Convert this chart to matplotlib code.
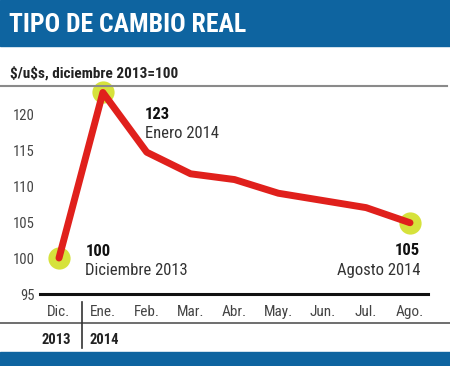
import numpy as np
import matplotlib.pyplot as plt
from matplotlib.patches import Rectangle
from matplotlib.lines import Line2D

plt.rcParams['font.family'] = ['Roboto Condensed', 'DejaVu Sans']

months = ['Dic.', 'Ene.', 'Feb.', 'Mar.', 'Abr.', 'May.', 'Jun.', 'Jul.', 'Ago.']
values = [100, 123, 114.7, 111.7, 110.9, 109, 108, 107, 104.9]
yticks = [95, 100, 105, 110, 115, 120]

W, H = 450, 366
BLUE = '#0e64a0'

def fx(px):
    return px / W

def fy(py):
    return 1 - py / H

fig = plt.figure(figsize=(4.5, 3.66), dpi=100)

# header band and footer band
fig.patches.append(Rectangle((0, fy(46)), 1, 46 / H, transform=fig.transFigure,
                             color=BLUE, zorder=0))
fig.patches.append(Rectangle((0, 0), 1, fy(352), transform=fig.transFigure,
                             color=BLUE, zorder=0))
fig.text(fx(9), fy(25), 'TIPO DE CAMBIO REAL', color='white', fontsize=18.5,
         fontweight='bold', va='center', ha='left')
fig.text(fx(10), fy(73), r'\$/u\$s, diciembre 2013=100', color='#222222', fontsize=11,
         fontweight='bold', va='center', ha='left')
fig.lines.append(Line2D([0, fx(447)], [fy(86), fy(86)], transform=fig.transFigure,
                        color='#8a8a8a', lw=1.5))

# main axes
left, right, top, bottom = 40, 428, 86, 294
ax = fig.add_axes([fx(left), fy(bottom), fx(right) - fx(left), (bottom - top) / H])
x = np.arange(len(months))
ax.plot(x, values, color='#e0201c', lw=5, solid_joinstyle='round',
        solid_capstyle='round', zorder=3, clip_on=False)
idx = [0, 1, len(x) - 1]
ax.plot(x[idx], [values[i] for i in idx], 'o', ms=16, color='#d6e23c', zorder=2,
        clip_on=False, mec='none')

ax.set_xlim(-0.433, 8.41)
ax.set_ylim(95, 123.9)
ax.set_yticks(yticks)
ax.set_yticklabels([str(v) for v in yticks], color='#444444', fontsize=10.5)
ax.set_xticks(x)
ax.set_xticklabels(months, color='#444444', fontsize=11)
ax.tick_params(axis='y', length=0, pad=4)
ax.tick_params(axis='x', length=0, pad=8)
for s in ['top', 'right', 'left']:
    ax.spines[s].set_visible(False)
ax.spines['bottom'].set_linewidth(2.2)
ax.spines['bottom'].set_color('#111111')

# point labels
ax.text(0.6, 100.9, '100', fontsize=12, fontweight='bold', color='#111111', va='center')
ax.text(0.6, 98.2, 'Diciembre 2013', fontsize=12, color='#333333', va='center')
ax.text(1.95, 120.0, '123', fontsize=12, fontweight='bold', color='#111111', va='center')
ax.text(1.95, 117.3, 'Enero 2014', fontsize=12, color='#333333', va='center')
ax.text(8.23, 101.1, '105', fontsize=12, fontweight='bold', color='#111111',
        va='center', ha='right')
ax.text(8.23, 98.2, 'Agosto 2014', fontsize=12, color='#333333', va='center', ha='right')

# year row
fig.lines.append(Line2D([0, 1], [fy(323), fy(323)], transform=fig.transFigure,
                        color='#555555', lw=1.2))
fig.lines.append(Line2D([fx(81.5), fx(81.5)], [fy(302), fy(348)],
                        transform=fig.transFigure, color='#333333', lw=1.2))
fig.text(fx(71), fy(340), '2013', fontsize=10.5, fontweight='bold', color='#222222',
         ha='right', va='center')
fig.text(fx(90), fy(340), '2014', fontsize=10.5, fontweight='bold', color='#222222',
         ha='left', va='center')

fig.savefig('out.png', dpi=100)
